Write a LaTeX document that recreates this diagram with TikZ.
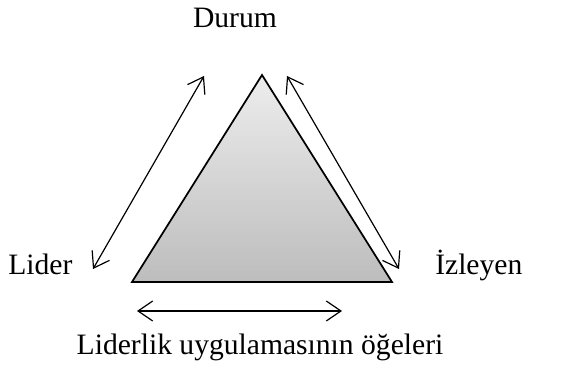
\documentclass[tikz,border=0pt]{standalone}
\usepackage{fontspec}
\setmainfont{Liberation Serif}
\usetikzlibrary{arrows.meta}

\begin{document}
\begin{tikzpicture}[
          x=0.75pt,y=-0.75pt,
          >={Straight Barb[length=11pt,width=15pt]},
          link/.style={<->,line width=0.9pt},
          tri/.style={draw,line width=1.3pt,line join=miter,top color=gray!14,bottom color=gray!52},
          term/.style={font=\fontsize{22.2}{26}\selectfont,inner sep=0pt}
        ]
        \path[use as bounding box] (0,0) rectangle (562,366);
        \coordinate (apex) at (262,75);
        \coordinate (botleft) at (132,282);
        \coordinate (botright) at (392,282);
        \draw[tri] (apex) -- (botright) -- (botleft) -- cycle;

        \node[term,anchor=base] (durum) at (235,28) {Durum};
        \node[term,anchor=base west] (lider) at (8,275) {Lider};
        \node[term,anchor=base west] (izleyen) at (435,275) {İzleyen};
        \node[term,anchor=base] (ogeler) at (260,355) {Liderlik uygulamasının öğeleri};

        \coordinate (l1) at (93,269);
        \coordinate (l2) at (204,76);
        \coordinate (r1) at (287,76);
        \coordinate (r2) at (399,269);
        \coordinate (b1) at (137,311);
        \coordinate (b2) at (342,311);
        \draw[link] (l1) -- (l2);
        \draw[link] (r1) -- (r2);
        \draw[link] (b1) -- (b2);

      \end{tikzpicture}
\end{document}
